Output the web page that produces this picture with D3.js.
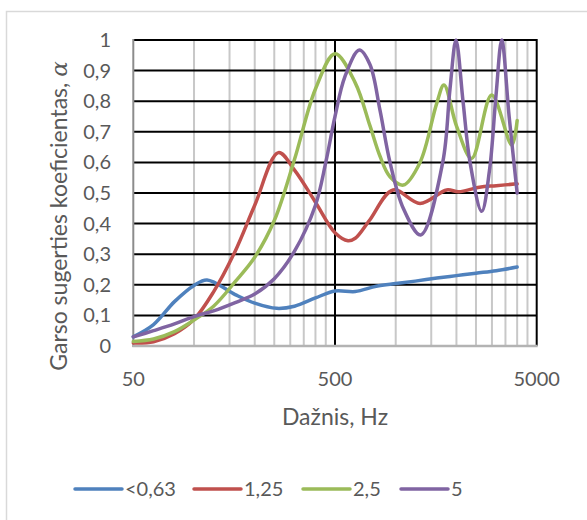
<!DOCTYPE html>
<html>
<head>
<meta charset="utf-8">
<script src="https://cdn.jsdelivr.net/npm/d3@7"></script>
<style>
html,body{margin:0;padding:0;background:#fff;}
svg{display:block;}
text{font-family:"Lato","Open Sans",sans-serif;fill:#595959;}
</style>
</head>
<body>
<svg id="chart" width="587" height="520"></svg>
<script>
// ---- data ----
const seriesNames = ["<0,63", "1,25", "2,5", "5"];
const seriesColors = ["#4F81BD", "#C0504D", "#9BBB59", "#8064A2"];

const freqBlue  = [50, 63, 80, 100, 116, 160, 200, 257, 315, 400, 500, 630, 800, 1000, 1250, 1600, 2000, 2500, 3150, 4000];
const alphaBlue = [0.03, 0.07, 0.145, 0.198, 0.216, 0.168, 0.14, 0.123, 0.13, 0.157, 0.18, 0.178, 0.195, 0.204, 0.212, 0.222, 0.23, 0.238, 0.246, 0.258];

const freqRed  = [50, 63, 80, 100, 125, 160, 200, 262, 315, 400, 500, 580, 630, 740, 970, 1320, 1790, 2050, 2600, 3150, 4000];
const alphaRed = [0.01, 0.014, 0.04, 0.087, 0.177, 0.31, 0.46, 0.632, 0.575, 0.47, 0.37, 0.344, 0.352, 0.41, 0.51, 0.466, 0.51, 0.504, 0.519, 0.524, 0.53];

const freqGreen  = [50, 63, 80, 100, 125, 160, 200, 250, 315, 400, 500, 630, 745, 836, 937, 1090, 1320, 1597, 1735, 2006, 2380, 2991, 3758, 4000];
const alphaGreen = [0.015, 0.023, 0.047, 0.085, 0.13, 0.21, 0.29, 0.41, 0.61, 0.84, 0.955, 0.86, 0.72, 0.62, 0.553, 0.526, 0.6, 0.793, 0.853, 0.717, 0.613, 0.82, 0.657, 0.737];

const freqPurple  = [50, 63, 80, 100, 125, 160, 200, 250, 315, 400, 450, 500, 560, 660, 745, 836, 937, 1090, 1330, 1710, 1858, 1990, 2156, 2336, 2669, 2918, 3143, 3354, 3650, 4000];
const alphaPurple = [0.03, 0.05, 0.072, 0.096, 0.115, 0.142, 0.17, 0.22, 0.31, 0.46, 0.6, 0.75, 0.88, 0.967, 0.92, 0.77, 0.6, 0.45, 0.363, 0.6, 0.84, 1.0, 0.8, 0.6, 0.44, 0.575, 0.82, 1.0, 0.75, 0.5];

const yTicks = [0, 0.1, 0.2, 0.3, 0.4, 0.5, 0.6, 0.7, 0.8, 0.9, 1];
const xTicks = [50, 500, 5000];
const xMinor = [100,150,200,250,300,350,400,450,1000,1500,2000,2500,3000,3500,4000,4500];
const xTitle = "Dažnis, Hz";
const yTitle = "Garso sugerties koeficientas, ";

const series = [
  {name: seriesNames[0], color: seriesColors[0], f: freqBlue,   a: alphaBlue},
  {name: seriesNames[1], color: seriesColors[1], f: freqRed,    a: alphaRed},
  {name: seriesNames[2], color: seriesColors[2], f: freqGreen,  a: alphaGreen},
  {name: seriesNames[3], color: seriesColors[3], f: freqPurple, a: alphaPurple}
];

// ---- layout ----
const svg = d3.select("#chart");
const L = 133.3, R = 536.7, T = 40, B = 346;
const x = d3.scaleLog().domain([50, 5000]).range([L, R]);
const y = d3.scaleLinear().domain([0, 1]).range([B, T]);
const fmt = v => String(+v.toFixed(1)).replace(".", ",");

// outer border
svg.append("rect").attr("x", 6.5).attr("y", 11.5).attr("width", 620).attr("height", 620)
  .attr("fill", "none").attr("stroke", "#d9d9d9").attr("stroke-width", 1.5);

// minor vertical gridlines
svg.append("g").selectAll("line").data(xMinor).join("line")
  .attr("x1", d => x(d)).attr("x2", d => x(d)).attr("y1", T).attr("y2", B)
  .attr("stroke", "#c8c8c8").attr("stroke-width", 2);

// major vertical gridlines
svg.append("g").selectAll("line").data(xTicks.slice(1)).join("line")
  .attr("x1", d => x(d)).attr("x2", d => x(d)).attr("y1", T - 1).attr("y2", B)
  .attr("stroke", "#000").attr("stroke-width", 2);

// horizontal gridlines
svg.append("g").selectAll("line").data(yTicks.slice(1)).join("line")
  .attr("x1", L).attr("x2", R).attr("y1", d => y(d)).attr("y2", d => y(d))
  .attr("stroke", "#000").attr("stroke-width", 2);

// axes lines
svg.append("line").attr("x1", L).attr("x2", L).attr("y1", T - 1).attr("y2", B + 1)
  .attr("stroke", "#8c8c8c").attr("stroke-width", 2);
svg.append("line").attr("x1", L - 1).attr("x2", R + 1).attr("y1", B).attr("y2", B)
  .attr("stroke", "#b3b3b3").attr("stroke-width", 2.5);

// tick labels
svg.append("g").selectAll("text").data(yTicks).join("text")
  .attr("x", 111).attr("y", d => y(d)).attr("dy", "0.35em")
  .attr("text-anchor", "end").attr("font-size", 20).text(fmt);
svg.append("g").selectAll("text").data(xTicks).join("text")
  .attr("x", d => x(d)).attr("y", 386)
  .attr("text-anchor", "middle").attr("font-size", 20).text(d => d);

// axis titles
svg.append("text").attr("x", 335).attr("y", 425).attr("text-anchor", "middle")
  .attr("font-size", 23).text(xTitle);
const yt = svg.append("text").attr("transform", "translate(67,216) rotate(-90)")
  .attr("text-anchor", "middle").attr("font-size", 23);
yt.append("tspan").text(yTitle);
yt.append("tspan").attr("font-style", "italic").attr("font-family", "DejaVu Serif").text("α");

// series
const line = d3.line().x(d => x(d[0])).y(d => y(d[1])).curve(d3.curveCatmullRom.alpha(0.5));
svg.append("g").selectAll("path").data(series).join("path")
  .attr("d", s => line(s.f.map((f, i) => [f, s.a[i]])))
  .attr("fill", "none").attr("stroke", s => s.color).attr("stroke-width", 3.5)
  .attr("stroke-linejoin", "round").attr("stroke-linecap", "round");

// legend
const legX = [75, 194, 303, 401];
const lg = svg.append("g").selectAll("g").data(series).join("g")
  .attr("transform", (d, i) => `translate(${legX[i]},489)`);
lg.append("line").attr("x1", 0).attr("x2", 47).attr("y1", 0).attr("y2", 0)
  .attr("stroke", d => d.color).attr("stroke-width", 3.5).attr("stroke-linecap", "round");
lg.append("text").attr("x", 50).attr("y", 0).attr("dy", "0.35em")
  .attr("font-size", 20).text(d => d.name);
</script>
</body>
</html>
